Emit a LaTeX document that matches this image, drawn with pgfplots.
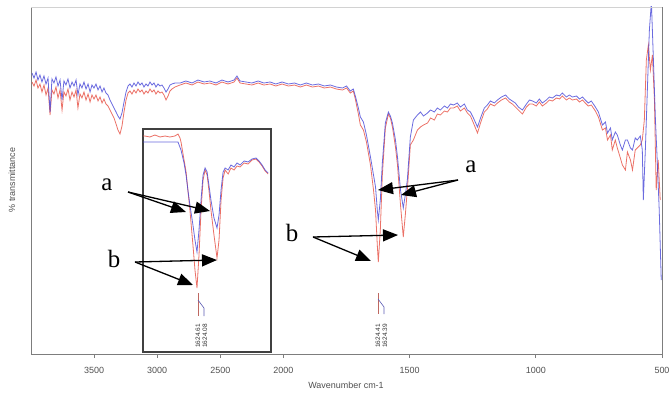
\documentclass[border=0pt]{standalone}
\usepackage{pgfplots}
\pgfplotsset{compat=1.18}
\usepackage{pgfplotstable}
\usepackage{fontspec}
\setmainfont{Liberation Serif}
\newfontfamily\arial{Liberation Sans}
\usetikzlibrary{arrows.meta}
\definecolor{specred}{RGB}{232,88,76}
\definecolor{specblue}{RGB}{70,70,215}
\definecolor{axgray}{RGB}{125,125,125}
\definecolor{txtgray}{RGB}{80,80,80}

% main spectrum, blue: wavenumber (cm-1), transmittance (arbitrary units)
\pgfplotstableread{
w T
3992 281
3976 276
3960 282
3945 274
3929 279
3913 272
3897 278
3881 270
3865 276
3849 242
3834 275
3818 271
3802 277
3786 268
3770 274
3754 254
3739 273
3723 269
3707 275
3691 266
3675 272
3659 268
3643 274
3628 259
3612 270
3596 266
3580 272
3564 265
3548 270
3532 262
3517 269
3501 266
3485 270
3469 264
3453 268
3437 262
3422 266
3406 261
3390 259
3374 254
3358 250
3342 246
3326 242
3311 238
3295 235
3279 241
3263 252
3247 262
3231 268
3216 270
3200 267
3184 271
3168 268
3152 272
3136 269
3120 271
3105 267
3089 270
3073 268
3057 272
3041 269
3025 271
3010 267
2994 270
2978 268
2962 269
2946 266
2930 262
2914 265
2899 269
2883 270
2859 271
2819 271
2772 273
2724 271
2677 274
2629 272
2582 273
2534 271
2487 274
2439 272
2391 274
2368 278
2344 273
2296 272
2249 271
2201 273
2154 271
2106 272
2059 270
2011 272
1980 270
1956 271
1933 269
1909 271
1885 269
1861 270
1838 268
1814 269
1790 267
1766 266
1750 268
1735 263
1723 265
1715 258
1703 246
1695 237
1683 232
1671 219
1655 197
1643 179
1635 167
1628 144
1624 134
1616 154
1608 191
1596 231
1584 242
1576 238
1568 231
1556 214
1548 197
1536 164
1525 146
1517 159
1509 174
1497 217
1485 234
1469 239
1457 242
1445 238
1429 241
1417 244
1402 242
1390 246
1378 244
1362 248
1350 246
1338 250
1326 249
1311 251
1299 247
1283 250
1271 244
1259 242
1247 236
1231 227
1219 236
1204 246
1192 249
1180 253
1164 251
1152 254
1136 257
1120 259
1105 255
1093 253
1081 251
1069 247
1053 244
1037 250
1025 254
1013 253
998 251
986 255
974 251
958 254
946 257
934 256
918 259
906 258
895 261
879 257
867 259
855 257
839 258
827 255
815 257
804 254
792 251
780 253
764 247
752 242
736 229
724 232
716 221
704 226
697 214
685 222
677 219
665 209
657 204
645 214
637 214
625 206
617 204
606 216
598 214
586 218
578 204
574 154
566 204
558 264
550 324
542 352
534 294
526 234
519 194
511 144
503 74
}\bluemain

% main spectrum, red
\pgfplotstableread{
w T
3992 272
3976 268
3960 274
3945 266
3929 270
3913 262
3897 269
3881 259
3865 266
3849 239
3834 264
3818 260
3802 267
3786 256
3770 264
3754 244
3739 262
3723 258
3707 265
3691 254
3675 262
3659 257
3643 264
3628 246
3612 260
3596 256
3580 262
3564 254
3548 260
3532 252
3517 259
3501 255
3485 259
3469 253
3453 257
3437 251
3422 255
3406 250
3390 248
3374 244
3358 240
3342 236
3326 230
3311 224
3295 220
3279 228
3263 242
3247 254
3231 261
3216 263
3200 260
3184 264
3168 261
3152 265
3136 262
3120 264
3105 260
3089 263
3073 261
3057 265
3041 262
3025 264
3010 260
2994 263
2978 261
2962 262
2946 259
2930 254
2914 258
2899 263
2883 265
2859 267
2819 269
2772 271
2724 269
2677 272
2629 270
2582 271
2534 269
2487 272
2439 270
2391 272
2368 276
2344 271
2296 270
2249 269
2201 271
2154 269
2106 270
2059 268
2011 270
1980 268
1956 269
1933 267
1909 269
1885 267
1861 268
1838 266
1814 267
1790 265
1766 264
1750 266
1735 261
1723 263
1715 255
1703 240
1695 229
1683 224
1671 212
1655 189
1643 164
1635 144
1628 109
1624 92
1616 124
1608 179
1596 226
1584 240
1576 236
1568 227
1556 207
1548 189
1536 149
1525 117
1517 139
1509 164
1497 209
1485 214
1469 224
1457 227
1445 229
1429 231
1417 236
1402 234
1390 240
1378 239
1362 243
1350 242
1338 246
1326 246
1311 248
1299 243
1283 246
1271 241
1259 238
1247 231
1231 221
1219 231
1204 242
1192 245
1180 250
1164 248
1152 251
1136 254
1120 256
1105 252
1093 250
1081 247
1069 244
1053 240
1037 247
1025 250
1013 250
998 248
986 252
974 248
958 251
946 254
934 253
918 256
906 255
895 258
879 254
867 256
855 254
839 255
827 252
815 254
804 251
792 248
780 249
764 243
752 237
736 224
724 226
716 214
704 219
697 204
685 214
677 206
665 196
657 189
645 184
637 202
625 194
617 184
606 204
598 206
586 209
578 214
570 234
562 294
554 309
546 284
538 299
530 254
523 164
515 194
507 154
}\redmain

% inset, blue
\pgfplotstableread{
w T
1891 210
1882 210
1857 210
1807 210
1758 210
1718 210
1703 202
1688 189
1678 177
1669 162
1659 147
1644 127
1634 112
1624 100
1614 122
1604 152
1594 177
1584 184
1574 180
1565 167
1555 152
1540 134
1525 124
1515 137
1505 162
1495 180
1485 184
1470 182
1456 187
1441 185
1426 189
1411 187
1391 191
1371 190
1352 193
1332 194
1317 191
1302 187
1287 182
1272 179
}\blueinset

% inset, red
\pgfplotstableread{
w T
1891 216
1882 216
1857 215
1832 217
1807 215
1782 216
1758 215
1733 216
1718 218
1708 214
1703 210
1688 192
1678 180
1669 162
1659 142
1644 107
1634 82
1624 64
1614 97
1604 142
1594 172
1584 182
1574 177
1565 162
1555 142
1540 117
1525 94
1515 112
1505 152
1495 174
1485 182
1470 178
1456 184
1441 182
1426 186
1411 185
1391 189
1371 188
1352 192
1332 193
1317 190
1302 186
1287 181
1272 178
}\redinset

\begin{document}
\begin{tikzpicture}
\useasboundingbox (0,0) rectangle (670bp,-396bp);

\begin{axis}[
  at={(31bp,-354bp)}, anchor=south west,
  scale only axis, width=631bp, height=347bp,
  xmin=0, xmax=5000, ymin=0, ymax=347,
  axis x line*=bottom, axis y line*=left,
  axis line style={draw=axgray, line width=0.8bp},
  xtick={500,1000,1500,2000,3000,4000,5000},
  xticklabels={3500,3000,2500,2000,1500,1000,500},
  ytick=\empty,
  tick align=outside, major tick length=4bp,
  tick style={draw=axgray, line width=0.8bp},
  xticklabel style={font=\arial\fontsize{9}{9}\selectfont, text=txtgray, yshift=-6bp},
  /pgf/number format/assume math mode=true,
]
\addplot[specred, line width=0.8bp, opacity=0.85]
  table[x expr={4000-\thisrow{w}+max(0,2000-\thisrow{w})}, y=T] {\redmain};
\addplot[specblue, line width=0.8bp, opacity=0.8]
  table[x expr={4000-\thisrow{w}+max(0,2000-\thisrow{w})}, y=T] {\bluemain};
\end{axis}

% frame lines right and top
\draw[axgray, line width=0.8bp] (662bp,-7bp) -- (662bp,-354bp);
\draw[gray!35, line width=0.6bp] (31bp,-7bp) -- (662bp,-7bp);

\begin{axis}[
  at={(143bp,-352bp)}, anchor=south west,
  scale only axis, width=128bp, height=223bp,
  xmin=1258, xmax=1891, x dir=reverse, ymin=0, ymax=223,
  xtick=\empty, ytick=\empty,
  axis line style={draw=black!75, line width=1.3bp},
  axis background/.style={fill=white},
]
\addplot[specred, line width=0.8bp, opacity=0.85] table[x=w, y=T] {\redinset};
\addplot[specblue, line width=0.8bp, opacity=0.8] table[x=w, y=T] {\blueinset};
\end{axis}

% peak marker lines and labels
\draw[specred!60!gray, line width=0.6bp] (378bp,-293bp) -- (378bp,-314bp);
\draw[specblue!60!gray, line width=0.6bp] (378bp,-299bp) -- (384bp,-307bp) -- (384bp,-314bp);
\draw[specred!60!gray, line width=0.6bp] (198bp,-293bp) -- (198bp,-316bp);
\draw[specblue!60!gray, line width=0.6bp] (198bp,-300bp) -- (204bp,-308bp) -- (204bp,-316bp);
\begin{scope}[every node/.style={rotate=90, inner sep=0pt, text=black!80, font=\arial\fontsize{6.5}{6.5}\selectfont}]
\node at (378bp,-336bp) {1624.41};
\node at (385bp,-336bp) {1624.39};
\node at (198bp,-336bp) {1624.61};
\node at (205bp,-336bp) {1624.08};
\end{scope}

% axis labels
\node[font=\arial\fontsize{9}{9}\selectfont, text=txtgray] at (346bp,-385bp) {Wavenumber cm-1};
\node[rotate=90, font=\arial\fontsize{9}{9}\selectfont, text=txtgray] at (12bp,-180bp) {\% transmittance};

% annotations
\begin{scope}[line width=1.3bp, -{Triangle[length=15bp,width=12bp]}]
\draw (128bp,-192bp) -- (186bp,-212bp);
\draw (128bp,-192bp) -- (210bp,-211bp);
\draw (135bp,-262bp) -- (217bp,-260bp);
\draw (135bp,-262bp) -- (193bp,-285bp);
\draw (458bp,-180bp) -- (378bp,-190bp);
\draw (458bp,-180bp) -- (401bp,-195bp);
\draw (313bp,-237bp) -- (398bp,-235bp);
\draw (313bp,-237bp) -- (371bp,-261bp);
\end{scope}
\begin{scope}[every node/.style={font=\fontsize{25}{25}\selectfont, inner sep=0pt}]
\node at (107bp,-185bp) {a};
\node at (114bp,-259bp) {b};
\node at (471bp,-167bp) {a};
\node at (292bp,-233bp) {b};
\end{scope}
\end{tikzpicture}
\end{document}
